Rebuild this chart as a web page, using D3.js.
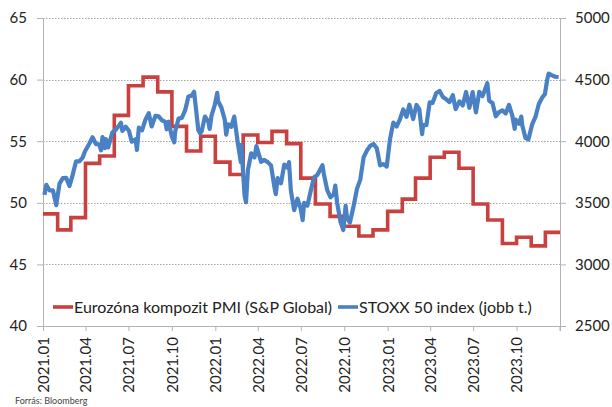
<!DOCTYPE html>
<html>
<head>
<meta charset="utf-8">
<script src="https://cdn.jsdelivr.net/npm/d3@7"></script>
<style>
    body { margin: 0; background: #fff; }
    svg text { font-family: Lato, "Open Sans", sans-serif; fill: #222; }
</style>
</head>
<body>
<div id="chart"></div>
<script>
// PMI: month of the survey -> value, shown from the 1st of the following month
const pmiMonths = [
    "2020-12",
    "2021-01", "2021-02", "2021-03", "2021-04", "2021-05", "2021-06", "2021-07", "2021-08", "2021-09", "2021-10", "2021-11", "2021-12",
    "2022-01", "2022-02", "2022-03", "2022-04", "2022-05", "2022-06", "2022-07", "2022-08", "2022-09", "2022-10", "2022-11", "2022-12",
    "2023-01", "2023-02", "2023-03", "2023-04", "2023-05", "2023-06", "2023-07", "2023-08", "2023-09", "2023-10", "2023-11"
];
const pmiValues = [
    49.1,
    47.8, 48.8, 53.2, 53.8, 57.1, 59.5, 60.2, 59.0, 56.2, 54.2, 55.4, 53.3,
    52.3, 55.5, 54.9, 55.8, 54.8, 52.0, 49.9, 48.9, 48.1, 47.3, 47.8, 49.3,
    50.3, 52.0, 53.7, 54.1, 52.8, 49.9, 48.6, 46.7, 47.2, 46.5, 47.6
];

// STOXX 50 (roughly weekly, plus the sharp dips)
const stoxx2021 = [
    ["2021-01-04", 3564], ["2021-01-08", 3645], ["2021-01-15", 3600], ["2021-01-22", 3602], ["2021-01-29", 3481],
    ["2021-02-05", 3656], ["2021-02-12", 3700], ["2021-02-19", 3703], ["2021-02-26", 3636],
    ["2021-03-05", 3729], ["2021-03-12", 3837], ["2021-03-19", 3837], ["2021-03-26", 3867], ["2021-03-31", 3919],
    ["2021-04-09", 3979], ["2021-04-16", 4032], ["2021-04-23", 3977], ["2021-04-30", 3975],
    ["2021-05-04", 3926], ["2021-05-07", 4034], ["2021-05-12", 3944], ["2021-05-14", 4017], ["2021-05-19", 3950], ["2021-05-28", 4072],
    ["2021-06-04", 4093], ["2021-06-11", 4127], ["2021-06-15", 4150], ["2021-06-18", 4083], ["2021-06-25", 4118],
    ["2021-07-02", 4085], ["2021-07-08", 3996], ["2021-07-16", 4016], ["2021-07-19", 3929], ["2021-07-23", 4110], ["2021-07-30", 4089],
    ["2021-08-06", 4175], ["2021-08-13", 4228], ["2021-08-19", 4120], ["2021-08-27", 4205],
    ["2021-09-03", 4201], ["2021-09-10", 4170], ["2021-09-17", 4157], ["2021-09-20", 4097], ["2021-09-24", 4158],
    ["2021-10-01", 4036], ["2021-10-06", 3990], ["2021-10-08", 4078], ["2021-10-15", 4183], ["2021-10-22", 4189], ["2021-10-29", 4250],
    ["2021-11-05", 4363], ["2021-11-12", 4370], ["2021-11-17", 4401], ["2021-11-26", 4089], ["2021-11-30", 4063],
    ["2021-12-03", 4080], ["2021-12-10", 4200], ["2021-12-17", 4161], ["2021-12-20", 4100], ["2021-12-24", 4208], ["2021-12-31", 4298]
];
const stoxx2022 = [
    ["2022-01-05", 4392], ["2022-01-07", 4325], ["2022-01-14", 4272], ["2022-01-21", 4173], ["2022-01-24", 4054], ["2022-01-28", 4137],
    ["2022-02-04", 4118], ["2022-02-10", 4200], ["2022-02-18", 3975], ["2022-02-24", 3830], ["2022-02-25", 3970],
    ["2022-03-04", 3557], ["2022-03-07", 3505], ["2022-03-11", 3766], ["2022-03-18", 3902], ["2022-03-25", 3868], ["2022-03-29", 3960],
    ["2022-04-08", 3832], ["2022-04-14", 3848], ["2022-04-22", 3830], ["2022-04-29", 3803],
    ["2022-05-06", 3630], ["2022-05-09", 3570], ["2022-05-13", 3700], ["2022-05-20", 3658], ["2022-05-27", 3810],
    ["2022-06-03", 3784], ["2022-06-06", 3830], ["2022-06-10", 3599], ["2022-06-17", 3440], ["2022-06-24", 3533],
    ["2022-07-01", 3448], ["2022-07-05", 3359], ["2022-07-08", 3500], ["2022-07-15", 3477], ["2022-07-22", 3596], ["2022-07-29", 3708],
    ["2022-08-05", 3725], ["2022-08-12", 3776], ["2022-08-16", 3805], ["2022-08-19", 3730], ["2022-08-26", 3603],
    ["2022-09-02", 3545], ["2022-09-09", 3570], ["2022-09-12", 3640], ["2022-09-16", 3500], ["2022-09-23", 3348], ["2022-09-29", 3279],
    ["2022-10-04", 3475], ["2022-10-07", 3375], ["2022-10-13", 3340], ["2022-10-21", 3476], ["2022-10-28", 3613],
    ["2022-11-04", 3688], ["2022-11-11", 3868], ["2022-11-18", 3924], ["2022-11-25", 3962],
    ["2022-12-02", 3977], ["2022-12-09", 3942], ["2022-12-16", 3804], ["2022-12-23", 3814], ["2022-12-30", 3794]
];
const stoxx2023 = [
    ["2023-01-06", 4017], ["2023-01-13", 4151], ["2023-01-20", 4120], ["2023-01-27", 4178],
    ["2023-02-03", 4258], ["2023-02-10", 4198], ["2023-02-16", 4296], ["2023-02-24", 4180],
    ["2023-03-03", 4294], ["2023-03-09", 4260], ["2023-03-15", 4058], ["2023-03-17", 4130], ["2023-03-24", 4130], ["2023-03-31", 4315],
    ["2023-04-06", 4310], ["2023-04-14", 4391], ["2023-04-21", 4408], ["2023-04-28", 4359],
    ["2023-05-05", 4340], ["2023-05-12", 4318], ["2023-05-19", 4373], ["2023-05-25", 4260], ["2023-06-02", 4323],
    ["2023-06-09", 4290], ["2023-06-16", 4400], ["2023-06-23", 4271], ["2023-06-30", 4399],
    ["2023-07-07", 4234], ["2023-07-14", 4400], ["2023-07-21", 4366], ["2023-07-31", 4471],
    ["2023-08-04", 4329], ["2023-08-11", 4310], ["2023-08-18", 4202], ["2023-08-25", 4236],
    ["2023-09-01", 4250], ["2023-09-08", 4225], ["2023-09-15", 4295], ["2023-09-22", 4207], ["2023-09-27", 4100], ["2023-09-29", 4175],
    ["2023-10-06", 4142], ["2023-10-11", 4200], ["2023-10-13", 4129], ["2023-10-20", 4025], ["2023-10-26", 4014],
    ["2023-11-03", 4136], ["2023-11-10", 4197], ["2023-11-17", 4300], ["2023-11-24", 4353], ["2023-11-30", 4382],
    ["2023-12-05", 4500], ["2023-12-08", 4549], ["2023-12-14", 4536], ["2023-12-22", 4523], ["2023-12-29", 4521]
];

const leftTicks = [40, 45, 50, 55, 60, 65];
const rightTicks = [2500, 3000, 3500, 4000, 4500, 5000];
const legendLabels = ["Eurozóna kompozit PMI (S&P Global)", "STOXX 50 index (jobb t.)"];
const sourceText = "Forrás: Bloomberg";

const colors = {pmi: "#c8413f", stoxx: "#4a80c4", axis: "#b3b3b3", grid: "#a6a6a6"};
const width = 612, height = 407;
const margin = {top: 18, right: 52, bottom: 81, left: 43};
const innerW = width - margin.left - margin.right;
const innerH = height - margin.top - margin.bottom;

const parseDay = d3.timeParse("%Y-%m-%d");
const parseMonth = d3.timeParse("%Y-%m");

// each PMI value starts at the first day of the month after the survey
const pmiData = pmiMonths.map((m, i) => ({date: d3.timeMonth.offset(parseMonth(m), 1), value: pmiValues[i]}));
pmiData.push({date: new Date(2024, 0, 1), value: pmiValues[pmiValues.length - 1]});

const stoxxData = [...stoxx2021, ...stoxx2022, ...stoxx2023].map(([d, v]) => ({date: parseDay(d), value: v}));

const x = d3.scaleTime()
    .domain([new Date(2021, 0, 1), new Date(2024, 0, 1)])
    .range([0, innerW]);
const yLeft = d3.scaleLinear().domain([40, 65]).range([innerH, 0]);
const yRight = d3.scaleLinear().domain([2500, 5000]).range([innerH, 0]);

const svg = d3.select("#chart").append("svg")
    .attr("width", width)
    .attr("height", height);

const g = svg.append("g").attr("transform", `translate(${margin.left},${margin.top})`);

// dotted grid
g.append("g")
    .selectAll("line")
    .data(leftTicks.slice(1))
    .join("line")
    .attr("x1", 0)
    .attr("x2", innerW)
    .attr("y1", d => Math.round(yLeft(d)) + 0.5)
    .attr("y2", d => Math.round(yLeft(d)) + 0.5)
    .attr("stroke", colors.grid)
    .attr("stroke-width", 1)
    .attr("stroke-dasharray", "1.5,1.5");

// x axis
const xTicks = d3.timeMonth.every(3).range(new Date(2021, 0, 1), new Date(2024, 0, 1));
const xAxis = g.append("g")
    .attr("transform", `translate(0,${innerH})`)
    .call(d3.axisBottom(x).tickValues(xTicks).tickFormat(d3.timeFormat("%Y.%m")).tickSizeOuter(0).tickSize(5));
xAxis.select(".domain").attr("stroke", colors.axis);
xAxis.selectAll(".tick line").attr("stroke", colors.axis);
xAxis.selectAll(".tick text")
    .attr("transform", "rotate(-90)")
    .attr("text-anchor", "end")
    .attr("x", -11)
    .attr("y", 0)
    .attr("dy", "0.36em")
    .style("font-size", "15px");

// left axis
const leftAxis = g.append("g")
    .call(d3.axisLeft(yLeft).tickValues(leftTicks).tickSize(6).tickPadding(10).tickSizeOuter(0));
leftAxis.select(".domain").attr("stroke", colors.axis);
leftAxis.selectAll(".tick line").attr("stroke", colors.axis);
leftAxis.selectAll(".tick text").style("font-size", "15px");

// right axis, plain numbers without thousands separator
const rightAxis = g.append("g")
    .attr("transform", `translate(${innerW},0)`)
    .call(d3.axisRight(yRight).tickValues(rightTicks).tickFormat(d3.format("d")).tickSize(6).tickPadding(9).tickSizeOuter(0));
rightAxis.select(".domain").attr("stroke", colors.axis);
rightAxis.selectAll(".tick line").attr("stroke", colors.axis);
rightAxis.selectAll(".tick text").style("font-size", "15px");
rightAxis.append("line")
    .attr("y1", innerH).attr("y2", innerH + 5)
    .attr("stroke", colors.axis);

// series
const pmiLine = d3.line()
    .x(d => x(d.date))
    .y(d => yLeft(d.value))
    .curve(d3.curveStepAfter);
g.append("path")
    .datum(pmiData)
    .attr("fill", "none")
    .attr("stroke", colors.pmi)
    .attr("stroke-width", 3.6)
    .attr("d", pmiLine);

const stoxxLine = d3.line()
    .x(d => x(d.date))
    .y(d => yRight(d.value))
    .curve(d3.curveLinear);
g.append("path")
    .datum(stoxxData)
    .attr("fill", "none")
    .attr("stroke", colors.stoxx)
    .attr("stroke-width", 4.2)
    .attr("stroke-linejoin", "round")
    .attr("d", stoxxLine);

// legend
const legend = g.append("g").attr("transform", `translate(0,${innerH - 19})`);
const legendItems = [
    {label: legendLabels[0], color: colors.pmi, x: 10},
    {label: legendLabels[1], color: colors.stoxx, x: 295}
];
legendItems.forEach(item => {
    legend.append("line")
        .attr("x1", item.x).attr("x2", item.x + 20)
        .attr("y1", 0).attr("y2", 0)
        .attr("stroke", item.color)
        .attr("stroke-width", 3.6);
    legend.append("text")
        .attr("x", item.x + 21)
        .attr("y", 0)
        .attr("dy", "0.35em")
        .style("font-size", "16px")
        .text(item.label);
});

svg.append("text")
    .attr("x", 15)
    .attr("y", 404)
    .style("font-size", "9px")
    .style("fill", "#444")
    .text(sourceText);
</script>
</body>
</html>
